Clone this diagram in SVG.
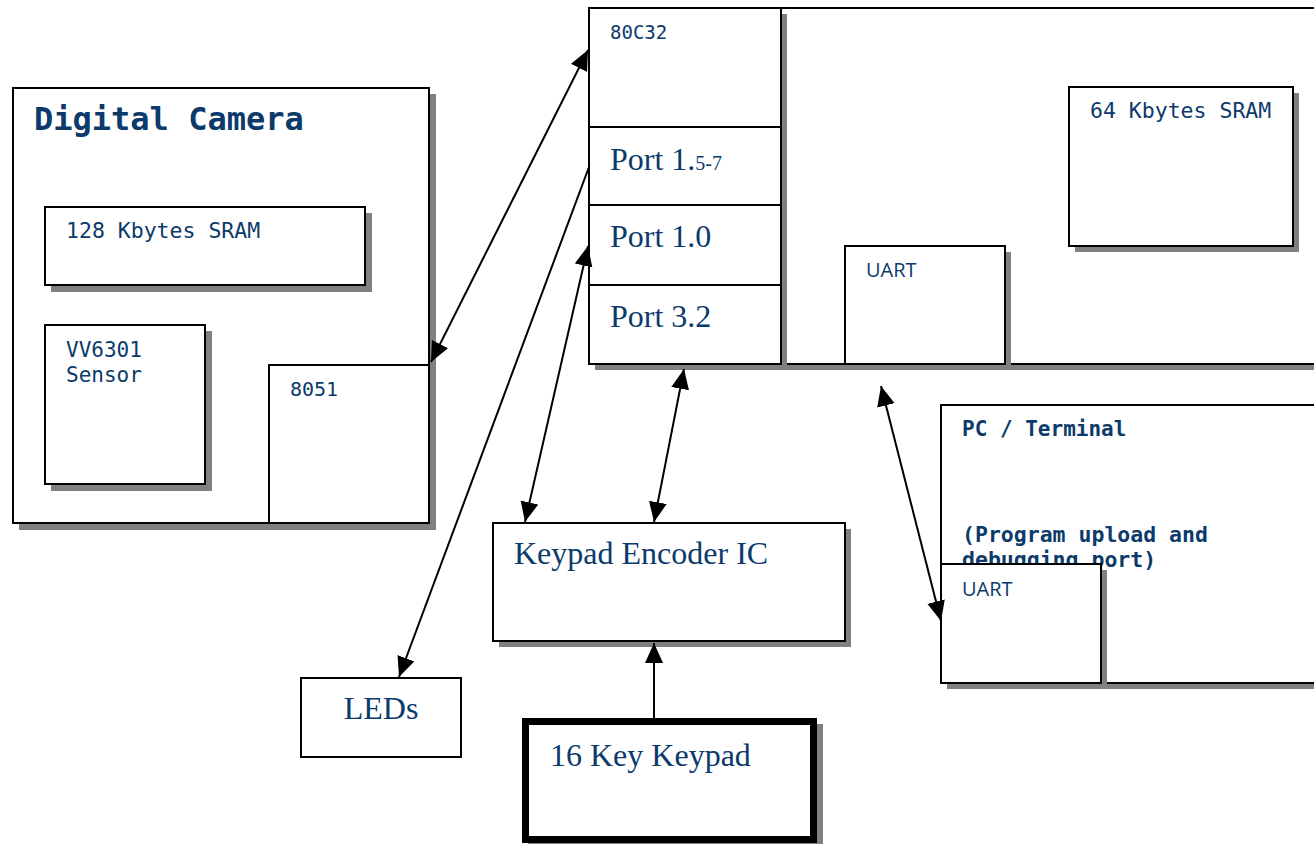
<svg xmlns="http://www.w3.org/2000/svg" width="1314" height="844" viewBox="0 0 1314 844">
<defs>
<style>
.box{fill:#fff;stroke:#000;stroke-width:2}
.sh{fill:#808080}
.mono{font-family:"DejaVu Sans Mono","Liberation Mono",monospace;fill:#0b3a6b}
.sans{font-family:"Open Sans","Liberation Sans",sans-serif;fill:#0b3a6b}
.serif{font-family:"Liberation Serif","Times New Roman",serif;fill:#0b3a6b;font-size:32px}
.con{stroke:#000;stroke-width:2;fill:none}
</style>
<marker id="ah" markerUnits="userSpaceOnUse" markerWidth="22" markerHeight="20" refX="20" refY="9" orient="auto-start-reverse" viewBox="0 0 22 20">
<path d="M0,0 L20,9 L0,18 z" fill="#000"/>
</marker>
</defs>
<rect width="1314" height="844" fill="#fff"/>

<g id="camera">
<rect class="sh" x="19" y="94" width="417" height="436"/>
<rect class="box" x="13" y="88" width="416" height="435"/>
<text class="mono" x="34" y="130" font-size="32" font-weight="bold">Digital Camera</text>
</g>
<g id="sram128">
<rect class="sh" x="51" y="213" width="321" height="79"/>
<rect class="box" x="45" y="207" width="320" height="78"/>
<text class="mono" x="66" y="238" font-size="21.5">128 Kbytes SRAM</text>
</g>
<g id="sensor">
<rect class="sh" x="51" y="331" width="161" height="160"/>
<rect class="box" x="45" y="325" width="160" height="159"/>
<text class="mono" x="66" y="357" font-size="21">VV6301</text>
<text class="mono" x="66" y="382" font-size="21">Sensor</text>
</g>
<g id="c8051">
<rect class="box" x="269" y="365" width="160" height="158"/>
<text class="mono" x="290" y="396" font-size="20">8051</text>
</g>

<g id="board">
<rect class="sh" x="787" y="14" width="600" height="356"/>
<rect class="box" x="781" y="8" width="600" height="356"/>
</g>
<g id="c80c32">
<rect class="sh" x="595" y="14" width="192" height="356"/>
<rect class="box" x="589" y="8" width="192" height="356"/>
<line x1="589" y1="127" x2="781" y2="127" stroke="#000" stroke-width="2"/>
<line x1="589" y1="205" x2="781" y2="205" stroke="#000" stroke-width="2"/>
<line x1="589" y1="285" x2="781" y2="285" stroke="#000" stroke-width="2"/>
<text class="mono" x="610" y="39" font-size="19">80C32</text>
<text class="serif" x="610" y="170">Port 1.<tspan font-size="20">5-7</tspan></text>
<text class="serif" x="610" y="247">Port 1.0</text>
<text class="serif" x="610" y="327">Port 3.2</text>
</g>
<g id="sram64">
<rect class="sh" x="1075" y="93" width="224" height="159"/>
<rect class="box" x="1069" y="87" width="224" height="159"/>
<text class="mono" x="1090" y="118" font-size="21.5">64 Kbytes SRAM</text>
</g>
<g id="uart1">
<rect class="sh" x="851" y="252" width="160" height="118"/>
<rect class="box" x="845" y="246" width="160" height="118"/>
<text class="sans" x="866" y="277" font-size="20">UART</text>
</g>

<g id="pc">
<rect class="sh" x="947" y="411" width="400" height="278"/>
<rect class="box" x="941" y="405" width="400" height="278"/>
<text class="mono" x="962" y="436" font-size="21" font-weight="bold">PC / Terminal</text>
<text class="mono" x="962" y="542" font-size="21.5" font-weight="bold">(Program upload and</text>
<text class="mono" x="962" y="567" font-size="21.5" font-weight="bold">debugging port)</text>
</g>
<g id="uart2">
<rect class="sh" x="947" y="570" width="160" height="119"/>
<rect class="box" x="941" y="564" width="160" height="119"/>
<text class="sans" x="962" y="596" font-size="20">UART</text>
</g>

<g id="encoder">
<rect class="sh" x="499" y="529" width="352" height="118"/>
<rect class="box" x="493" y="523" width="352" height="118"/>
<text class="serif" x="514" y="564">Keypad Encoder IC</text>
</g>
<g id="leds">
<rect class="box" x="301" y="678" width="160" height="79"/>
<text class="serif" x="381" y="719" text-anchor="middle">LEDs</text>
</g>
<g id="keypad">
<rect class="sh" x="528" y="724" width="295" height="125"/>
<rect x="525.5" y="721.5" width="288" height="118" fill="#fff" stroke="#000" stroke-width="7"/>
<text class="serif" x="550" y="766">16 Key Keypad</text>
</g>

<g id="connectors">
<line class="con" x1="431" y1="362" x2="588" y2="50" marker-start="url(#ah)" marker-end="url(#ah)"/>
<line class="con" x1="589" y1="167" x2="399" y2="677" marker-end="url(#ah)"/>
<line class="con" x1="588" y1="246" x2="525" y2="522" marker-start="url(#ah)" marker-end="url(#ah)"/>
<line class="con" x1="684" y1="369" x2="654" y2="522" marker-start="url(#ah)" marker-end="url(#ah)"/>
<line class="con" x1="881" y1="386" x2="941" y2="621" marker-start="url(#ah)" marker-end="url(#ah)"/>
<line class="con" x1="654" y1="718" x2="654" y2="643" marker-end="url(#ah)"/>
</g>
</svg>
